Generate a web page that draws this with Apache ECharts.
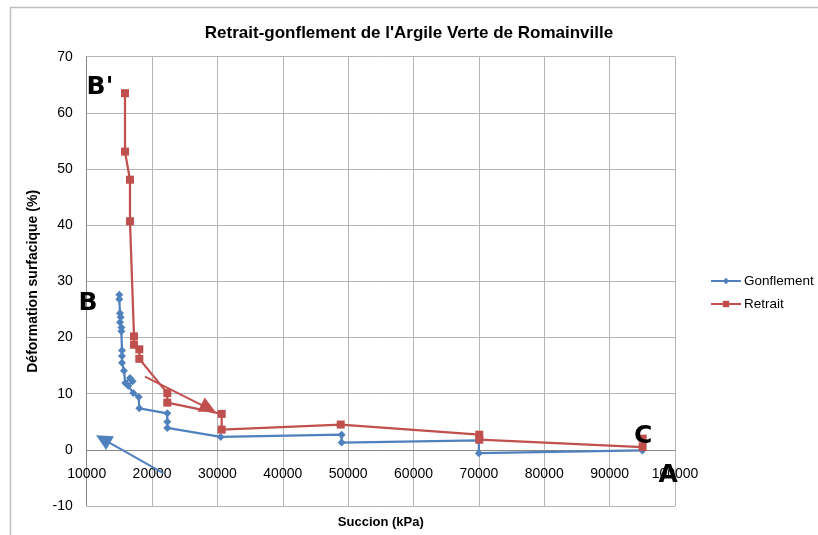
<!DOCTYPE html>
<html><head><meta charset="utf-8">
<script src="https://cdn.jsdelivr.net/npm/echarts@6/dist/echarts.min.js"></script>
<style>html,body{margin:0;padding:0;background:#fff}#c{width:818px;height:535px}</style>
</head><body><div id="c"></div>
<script>
const titleText = "Retrait-gonflement de l'Argile Verte de Romainville";
const xName = "Succion (kPa)";
const yName = "Déformation surfacique (%)";
const xTicks = {min: 10000, max: 100000, interval: 10000};
const yTicks = {min: -10, max: 70, interval: 10};

// Gonflement (path from A to B)
const gonfSuction = [95000, 70000, 70000, 49000, 49000, 30500, 22330, 22330, 22330, 18050, 17950, 17130, 16370, 17030, 16620, 15900, 15700, 15400, 15400, 15400, 15300, 15300, 15090, 15200, 15090, 14990, 14990];
const gonfDef     = [-0.1, -0.6, 1.7, 1.3, 2.7, 2.3, 3.9, 5.0, 6.5, 7.4, 9.4, 10.1, 11.4, 12.2, 12.8, 11.9, 14.1, 15.5, 16.7, 17.7, 21.1, 21.8, 22.7, 23.6, 24.3, 26.8, 27.6];

// Retrait (path from B' to C)
const retSuction = [15860, 15860, 16620, 16620, 17240, 17240, 18050, 18050, 22330, 22330, 30650, 30650, 48860, 70060, 70060, 95050, 95050];
const retDef     = [63.5, 53.1, 48.1, 40.7, 20.2, 18.7, 17.9, 16.2, 10.1, 8.4, 6.4, 3.6, 4.5, 2.7, 1.8, 0.5, 2.0];

// annotation arrows [start, end] in data units
const redArrow  = [[18920, 13.05], [28600, 7.4]];
const blueArrow = [[21720, -4.15], [12500, 1.9]];
// letter labels
const letters = [["B'", 12030, 64.5], ["B", 10200, 26.0], ["C", 95120, 2.3], ["A", 98940, -4.6]];

const blue = '#4F81BD', red = '#C0504D';
const pair = (xs, ys) => xs.map((x, i) => [x, ys[i]]);
const letterStyle = {show: true, position: 'inside', formatter: p => p.name,
  fontFamily: 'DejaVu Sans', fontWeight: 'bold', fontSize: 25, color: '#000'};

const gridTop = 56.7, gridBottom = 29, plotH = 535 - gridTop - gridBottom;
const zeroOffset = -plotH * (0 - yTicks.min) / (yTicks.max - yTicks.min);

const chart = echarts.init(document.getElementById('c'), null, {renderer: 'canvas'});
chart.setOption({
  animation: false,
  backgroundColor: '#fff',
  graphic: [{type: 'rect', shape: {x: 10.5, y: 7.5, width: 900, height: 700},
    style: {fill: 'none', stroke: '#bfbfbf', lineWidth: 1.5}, silent: true, z: -1}],
  title: {text: titleText, left: 'center', top: 20,
    textStyle: {fontFamily: 'Liberation Sans', fontWeight: 'bold', fontSize: 17, color: '#000'}},
  legend: {orient: 'vertical', left: 705, top: 269, itemGap: 9, itemWidth: 30, itemHeight: 8,
    textStyle: {fontFamily: 'Liberation Sans', fontSize: 13.5, color: '#000', padding: [0,0,0,-2]},
    data: ['Gonflement', 'Retrait']},
  grid: {left: 86.7, right: 143, top: gridTop, bottom: gridBottom, containLabel: false, outerBoundsMode: 'none'},
  xAxis: {type: 'value', min: xTicks.min, max: xTicks.max, interval: xTicks.interval,
    offset: zeroOffset,
    name: xName, nameLocation: 'middle', nameGap: 66,
    nameTextStyle: {fontFamily: 'Liberation Sans', fontWeight: 'bold', fontSize: 13, color: '#000'},
    axisLine: {show: true, onZero: false, lineStyle: {color: '#888', width: 1}},
    axisTick: {show: false},
    axisLabel: {fontFamily: 'Liberation Sans', fontSize: 14, color: '#000', margin: 17, formatter: v => String(v)},
    splitLine: {show: true, lineStyle: {color: '#b5b5b5', width: 1}}},
  yAxis: {type: 'value', min: yTicks.min, max: yTicks.max, interval: yTicks.interval,
    name: yName, nameLocation: 'middle', nameGap: 47, nameRotate: 90,
    nameTextStyle: {fontFamily: 'Liberation Sans', fontWeight: 'bold', fontSize: 14, color: '#000'},
    axisLine: {show: true, onZero: false, lineStyle: {color: '#888', width: 1}},
    axisTick: {show: false},
    axisLabel: {fontFamily: 'Liberation Sans', fontSize: 14, color: '#000', margin: 14},
    splitLine: {show: true, lineStyle: {color: '#b5b5b5', width: 1}}},
  series: [
    {name: 'Gonflement', type: 'line', data: pair(gonfSuction, gonfDef),
      symbol: 'diamond', symbolSize: 8, color: blue,
      lineStyle: {color: blue, width: 2.25}, itemStyle: {color: blue},
      markLine: {silent: true, symbol: ['none', 'triangle'], symbolSize: [16, 16],
        label: {show: false}, lineStyle: {color: blue, width: 2, type: 'solid'},
        data: [[{coord: blueArrow[0]}, {coord: blueArrow[1]}]]},
      markPoint: {silent: true, symbol: 'rect', symbolSize: 1, itemStyle: {color: 'rgba(0,0,0,0)'},
        label: letterStyle,
        data: letters.filter(l => l[0] === 'A' || l[0] === 'B').map(l => ({name: l[0], coord: [l[1], l[2]]}))}},
    {name: 'Retrait', type: 'line', data: pair(retSuction, retDef),
      symbol: 'rect', symbolSize: 8, color: red,
      lineStyle: {color: red, width: 2.25}, itemStyle: {color: red},
      markLine: {silent: true, symbol: ['none', 'triangle'], symbolSize: [16, 16],
        label: {show: false}, lineStyle: {color: red, width: 2, type: 'solid'},
        data: [[{coord: redArrow[0]}, {coord: redArrow[1]}]]},
      markPoint: {silent: true, symbol: 'rect', symbolSize: 1, itemStyle: {color: 'rgba(0,0,0,0)'},
        label: letterStyle,
        data: letters.filter(l => l[0] === "B'" || l[0] === 'C').map(l => ({name: l[0], coord: [l[1], l[2]]}))}}
  ]
});
</script></body></html>
